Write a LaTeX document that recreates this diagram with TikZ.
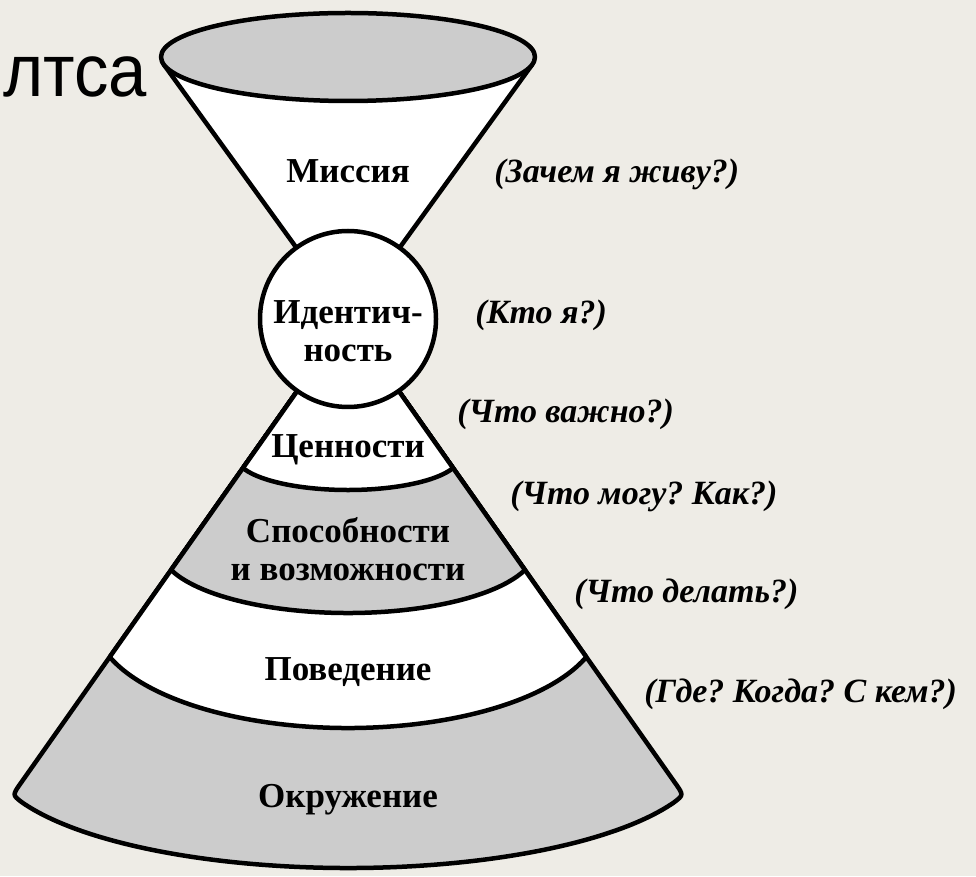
\documentclass[tikz,border=0pt]{standalone}
\usepackage{fontspec}
\setmainfont{Liberation Serif}
\newfontfamily\headfont{Liberation Sans}
\usetikzlibrary{calc}
\definecolor{paper}{RGB}{238,236,230}
\definecolor{shade}{RGB}{204,204,204}
\frenchspacing

% zone above a rim: #1 = height of the rim ends, #2 = sag of the rim, #3 = fill
\newcommand{\capzone}[3]{
	\filldraw[fill=#3] ({348 - 0.705*(557 - #1)}, #1) -- (apex) -- ({348 + 0.705*(557 - #1)}, #1)
		arc[start angle=-20, end angle=-160, x radius={0.705*(557 - #1)/cos(20)}, y radius={#2/(1 - sin(20))}] -- cycle;
}

\begin{document}
\begin{tikzpicture}[x=1pt, y=1pt, line width=4.5pt, line join=round,
	level/.style={font=\bfseries\fontsize{35}{38}\selectfont, align=center, inner sep=0pt, anchor=base},
	ask/.style={font=\bfseries\itshape\fontsize{34}{37}\selectfont, inner sep=0pt, anchor=base west}]

\fill[paper] (0,0) rectangle (976,876);
\useasboundingbox (0,0) rectangle (976,876);

\coordinate (apex) at (348,557);
\coordinate (botL) at (12.4,81);
\coordinate (botR) at (683.6,81);
\coordinate (rimC) at (348,118.9);

% lower cone, from the bottom up
\filldraw[fill=shade] (apex) -- ($(apex)!0.975!(botL)$) .. controls (botL) .. ($(rimC)+(204:357.1 and 110.9)$)
	arc[start angle=204, end angle=336, x radius=357.1, y radius=110.9] .. controls (botR) .. ($(apex)!0.975!(botR)$) -- cycle;
\capzone{219}{71}{white}
\capzone{306}{43}{shade}
\capzone{408}{22}{white}

% upper cone
\fill[white] (163.7,811.6) -- (apex) -- (532.3,811.6) -- cycle;
\draw (163.7,811.6) -- (apex) -- (532.3,811.6);
\filldraw[fill=shade] (348,819) ellipse[x radius=187, y radius=44];
\filldraw[fill=white] (apex) circle[radius=88];

% levels (two-line nodes sit on their last line)
\node[level] (mission) at (348,693) {Миссия};
\node[level] (identity) at (348,514) {Идентич-\\ность};
\node[level] (values) at (348,418) {Ценности};
\node[level] (abilities) at (348,296) {Способности\\и возможности};
\node[level] (behaviour) at (348,196) {Поведение};
\node[level] (environment) at (348,69) {Окружение};

% questions
\node[ask] (whyq) at (492,693) {(Зачем я живу?)};
\node[ask] (whoq) at (473,552) {(Кто я?)};
\node[ask] (whatq) at (455,453) {(Что важно?)};
\node[ask] (howq) at (508,371) {(Что могу? Как?)};
\node[ask] (doq) at (572,274) {(Что делать?)};
\node[ask] (whereq) at (642,174) {(Где? Когда? С кем?)};

\node[font=\headfont\fontsize{74}{84}\selectfont, anchor=base east, inner sep=0pt] (title) at (149,779) {\scalebox{0.93}[1]{лтса}};

\end{tikzpicture}
\end{document}
